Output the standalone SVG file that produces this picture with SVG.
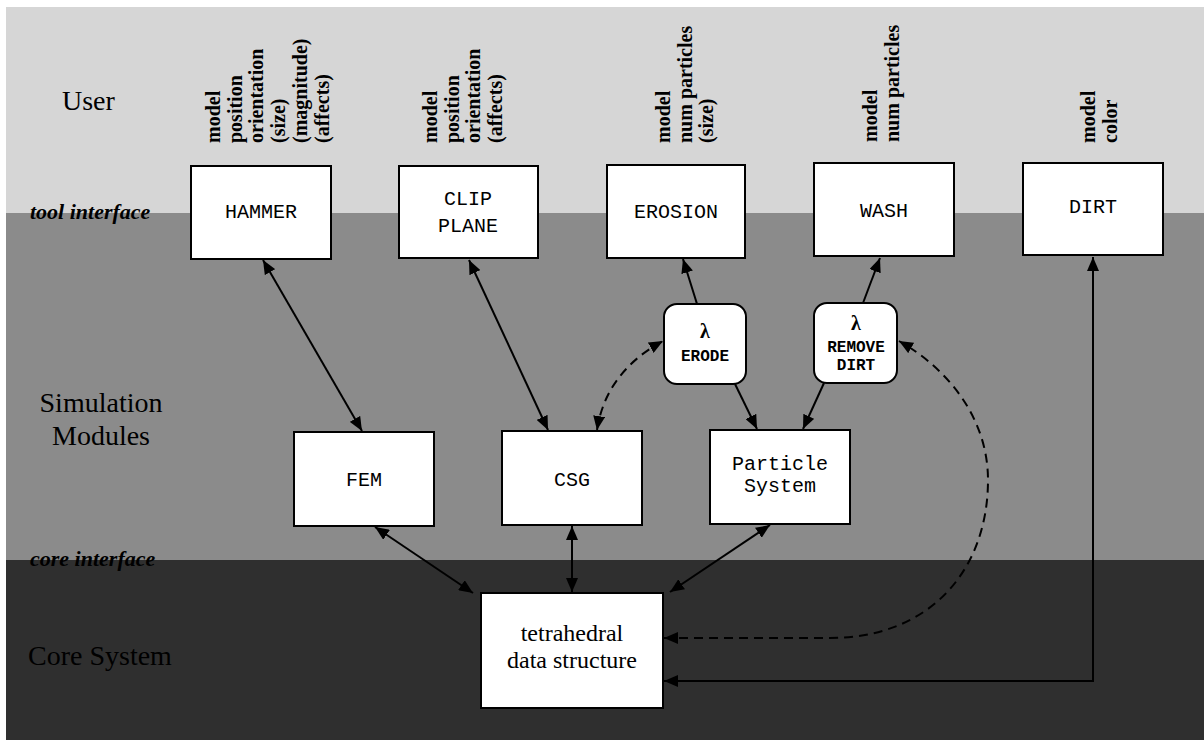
<svg xmlns="http://www.w3.org/2000/svg" width="1204" height="742" viewBox="0 0 1204 742">
<defs>
<marker id="ah" viewBox="0 0 14 12" refX="14" refY="6" markerWidth="14" markerHeight="12" markerUnits="userSpaceOnUse" orient="auto-start-reverse">
<path d="M0,0 L14,6 L0,12 z" fill="#000"/>
</marker>
<style>
.box{fill:#fff;stroke:#000;stroke-width:2}
.mono{font-family:"Liberation Mono","DejaVu Sans Mono",monospace;font-size:20px;fill:#000;text-anchor:middle}
.small{font-family:"Liberation Mono","DejaVu Sans Mono",monospace;font-size:16px;font-weight:bold;fill:#000;text-anchor:middle}
.lam{font-family:"Liberation Serif","DejaVu Serif",serif;font-size:20px;font-weight:bold;fill:#000;text-anchor:middle}
.serif{font-family:"Liberation Serif","DejaVu Serif",serif;font-size:24px;fill:#000;text-anchor:middle}
.layer{font-family:"Liberation Serif","DejaVu Serif",serif;font-size:28px;fill:#000}
.iface{font-family:"Liberation Serif","DejaVu Serif",serif;font-size:22px;font-style:italic;font-weight:bold;fill:#000}
.param{font-family:"Liberation Serif","DejaVu Serif",serif;font-size:20px;font-weight:bold;fill:#000}
.con{stroke:#000;stroke-width:2;fill:none}
.dash{stroke-dasharray:9 6}
</style>
</defs>
<rect x="0" y="0" width="1204" height="742" fill="#fff"/>
<rect x="6" y="7" width="1198" height="207" fill="#d6d6d6"/>
<rect x="6" y="213" width="1198" height="348" fill="#8b8b8b"/>
<rect x="6" y="560" width="1198" height="180" fill="#2f2f2f"/>

<g id="layer-labels">
<text class="layer" x="62" y="110">User</text>
<text class="iface" x="30" y="219">tool interface</text>
<text class="layer" x="101" y="412" text-anchor="middle">Simulation</text>
<text class="layer" x="101" y="445" text-anchor="middle">Modules</text>
<text class="iface" x="30" y="566">core interface</text>
<text class="layer" x="28" y="665">Core System</text>
</g>

<g id="params">
<g transform="translate(220,143) rotate(-90)"><text class="param" x="0" y="0">model</text><text class="param" x="0" y="21.7">position</text><text class="param" x="0" y="43.4">orientation</text><text class="param" x="0" y="65.1">(size)</text><text class="param" x="0" y="86.8">(magnitude)</text><text class="param" x="0" y="108.5">(affects)</text></g>
<g transform="translate(437,143) rotate(-90)"><text class="param" x="0" y="0">model</text><text class="param" x="0" y="21.7">position</text><text class="param" x="0" y="43.4">orientation</text><text class="param" x="0" y="65.1">(affects)</text></g>
<g transform="translate(670,143) rotate(-90)"><text class="param" x="0" y="0">model</text><text class="param" x="0" y="21.7">num particles</text><text class="param" x="0" y="43.4">(size)</text></g>
<g transform="translate(877,142) rotate(-90)"><text class="param" x="0" y="0">model</text><text class="param" x="0" y="21.7">num particles</text></g>
<g transform="translate(1095,143) rotate(-90)"><text class="param" x="0" y="0">model</text><text class="param" x="0" y="21.7">color</text></g>
</g>

<g id="connectors">
<line class="con" x1="263" y1="260" x2="362" y2="431" marker-start="url(#ah)" marker-end="url(#ah)"/>
<line class="con" x1="469" y1="260" x2="548" y2="430" marker-start="url(#ah)" marker-end="url(#ah)"/>
<line class="con" x1="697" y1="304" x2="683" y2="259" marker-end="url(#ah)"/>
<line class="con" x1="735" y1="384" x2="757" y2="429" marker-end="url(#ah)"/>
<line class="con" x1="824" y1="383" x2="803" y2="429" marker-end="url(#ah)"/>
<line class="con" x1="863" y1="303" x2="880" y2="258" marker-end="url(#ah)"/>
<path class="con dash" d="M597,430 Q606,372 663,341" marker-start="url(#ah)" marker-end="url(#ah)"/>
<line class="con" x1="375" y1="527" x2="473" y2="593" marker-start="url(#ah)" marker-end="url(#ah)"/>
<line class="con" x1="572" y1="526" x2="572" y2="592" marker-start="url(#ah)" marker-end="url(#ah)"/>
<line class="con" x1="770" y1="525" x2="670" y2="592" marker-start="url(#ah)" marker-end="url(#ah)"/>
<path class="con dash" d="M664,638 L830,638 C930,638 988,570 988,480 C988,420 950,370 899,341" marker-start="url(#ah)" marker-end="url(#ah)"/>
<path class="con" d="M664,681 L1093,681 L1093,257" marker-start="url(#ah)" marker-end="url(#ah)"/>
</g>

<g id="hammer"><rect class="box" x="191" y="166" width="140" height="93"/><text class="mono" x="261" y="218">HAMMER</text></g>
<g id="clip-plane"><rect class="box" x="399" y="166" width="139" height="92"/><text class="mono" x="468" y="205">CLIP</text><text class="mono" x="468" y="232">PLANE</text></g>
<g id="erosion"><rect class="box" x="607" y="165" width="138" height="93"/><text class="mono" x="676" y="218">EROSION</text></g>
<g id="wash"><rect class="box" x="814" y="163" width="140" height="93"/><text class="mono" x="884" y="217">WASH</text></g>
<g id="dirt"><rect class="box" x="1023" y="163" width="140" height="92"/><text class="mono" x="1093" y="213">DIRT</text></g>

<g id="erode"><rect class="box" x="664" y="304" width="82" height="80" rx="13"/><text class="lam" x="705" y="338">λ</text><text class="small" x="705" y="361">ERODE</text></g>
<g id="remove-dirt"><rect class="box" x="814" y="303" width="83" height="80" rx="13"/><text class="lam" x="856" y="330">λ</text><text class="small" x="856" y="352">REMOVE</text><text class="small" x="856" y="370">DIRT</text></g>

<g id="fem"><rect class="box" x="294" y="432" width="140" height="94"/><text class="mono" x="364" y="486">FEM</text></g>
<g id="csg"><rect class="box" x="502" y="431" width="140" height="94"/><text class="mono" x="572" y="486">CSG</text></g>
<g id="particle-system"><rect class="box" x="710" y="430" width="140" height="94"/><text class="mono" x="780" y="470">Particle</text><text class="mono" x="780" y="492">System</text></g>

<g id="tetrahedral"><rect class="box" x="481" y="593" width="182" height="115"/><text class="serif" x="572" y="641">tetrahedral</text><text class="serif" x="572" y="668">data structure</text></g>
</svg>
